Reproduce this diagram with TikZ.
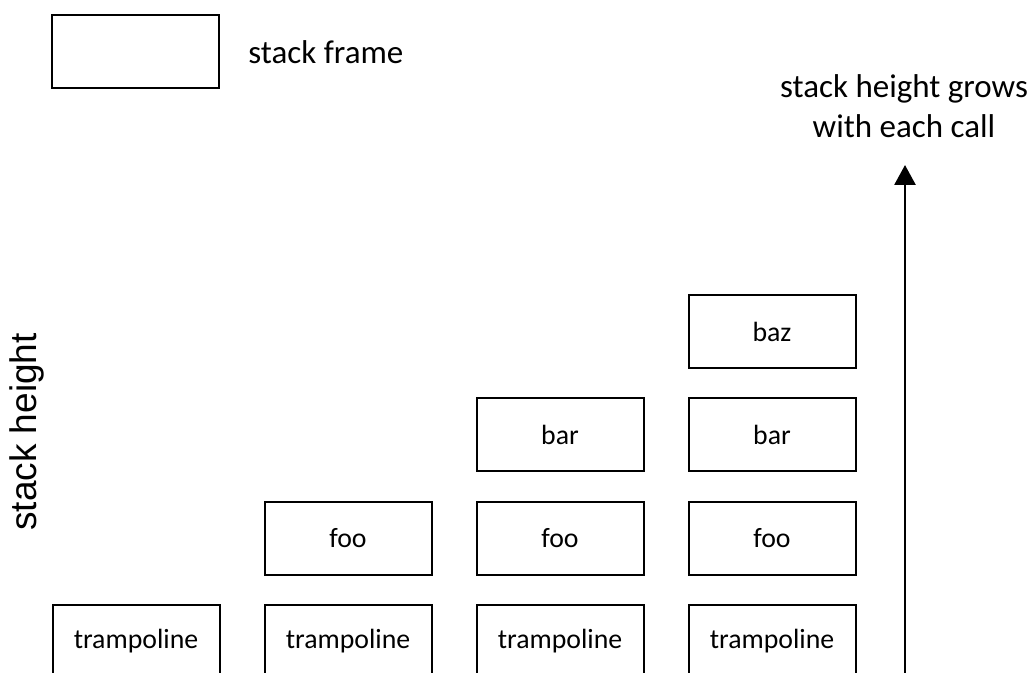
\documentclass[tikz,border=0pt]{standalone}
\usepackage{fontspec}
\setmainfont{Carlito}
\newfontfamily\arialfont{Liberation Sans}
\usepackage{tikz}
\usetikzlibrary{arrows.meta, positioning}
\def\colGap{212}
\def\rowGap{103.3}
\def\firstCol{136}
\def\baseRow{641.5}

\tikzset{
    frame/.style={draw, line width=1pt, minimum width=83.5pt, minimum height=36.5pt,
                  inner sep=0pt, font=\fontsize{13.9}{16}\selectfont},
    legendText/.style={inner sep=0pt, font=\fontsize{16.5}{20}\selectfont},
    growArrow/.style={line width=1.4pt, -{Triangle[length=10pt, width=10.5pt]}}
}

\begin{document}
\begin{tikzpicture}[x=0.5pt, y=-0.5pt]
            \useasboundingbox (0,0) rectangle (1034,673);

            % Draw legend
            \node[frame] (legendBox) at (135.5,51.5) {};
            \node[legendText, anchor=west] (legendLabel) at (248,52) {stack frame};

            % Draw stacks, one more frame per call
            \foreach \c in {0,...,3} {
                \pgfmathsetmacro{\colX}{\firstCol + \c * \colGap}
                \foreach [count=\r from 0] \lbl in {trampoline,foo,bar,baz} {
                    \ifnum\r>\c\else
                        \pgfmathsetmacro{\rowY}{\baseRow - \r * \rowGap}
                        \node[frame] (f-\c-\r) at (\colX,\rowY) {\lbl};
                    \fi
                }
            }

            % Draw axis label
            \node[rotate=90, inner sep=0pt, font=\arialfont\fontsize{18.5}{22}\selectfont]
                (heightLabel) at (27,432) {stack height};

            % Draw growth arrow
            \coordinate (growBase) at (905,700);
            \coordinate (growTip) at (905,165);
            \draw[growArrow] (growBase) -- (growTip);
            \node[legendText, align=center] (growLabel) at (904,106) {stack height grows\\with each call};

        \end{tikzpicture}
\end{document}
